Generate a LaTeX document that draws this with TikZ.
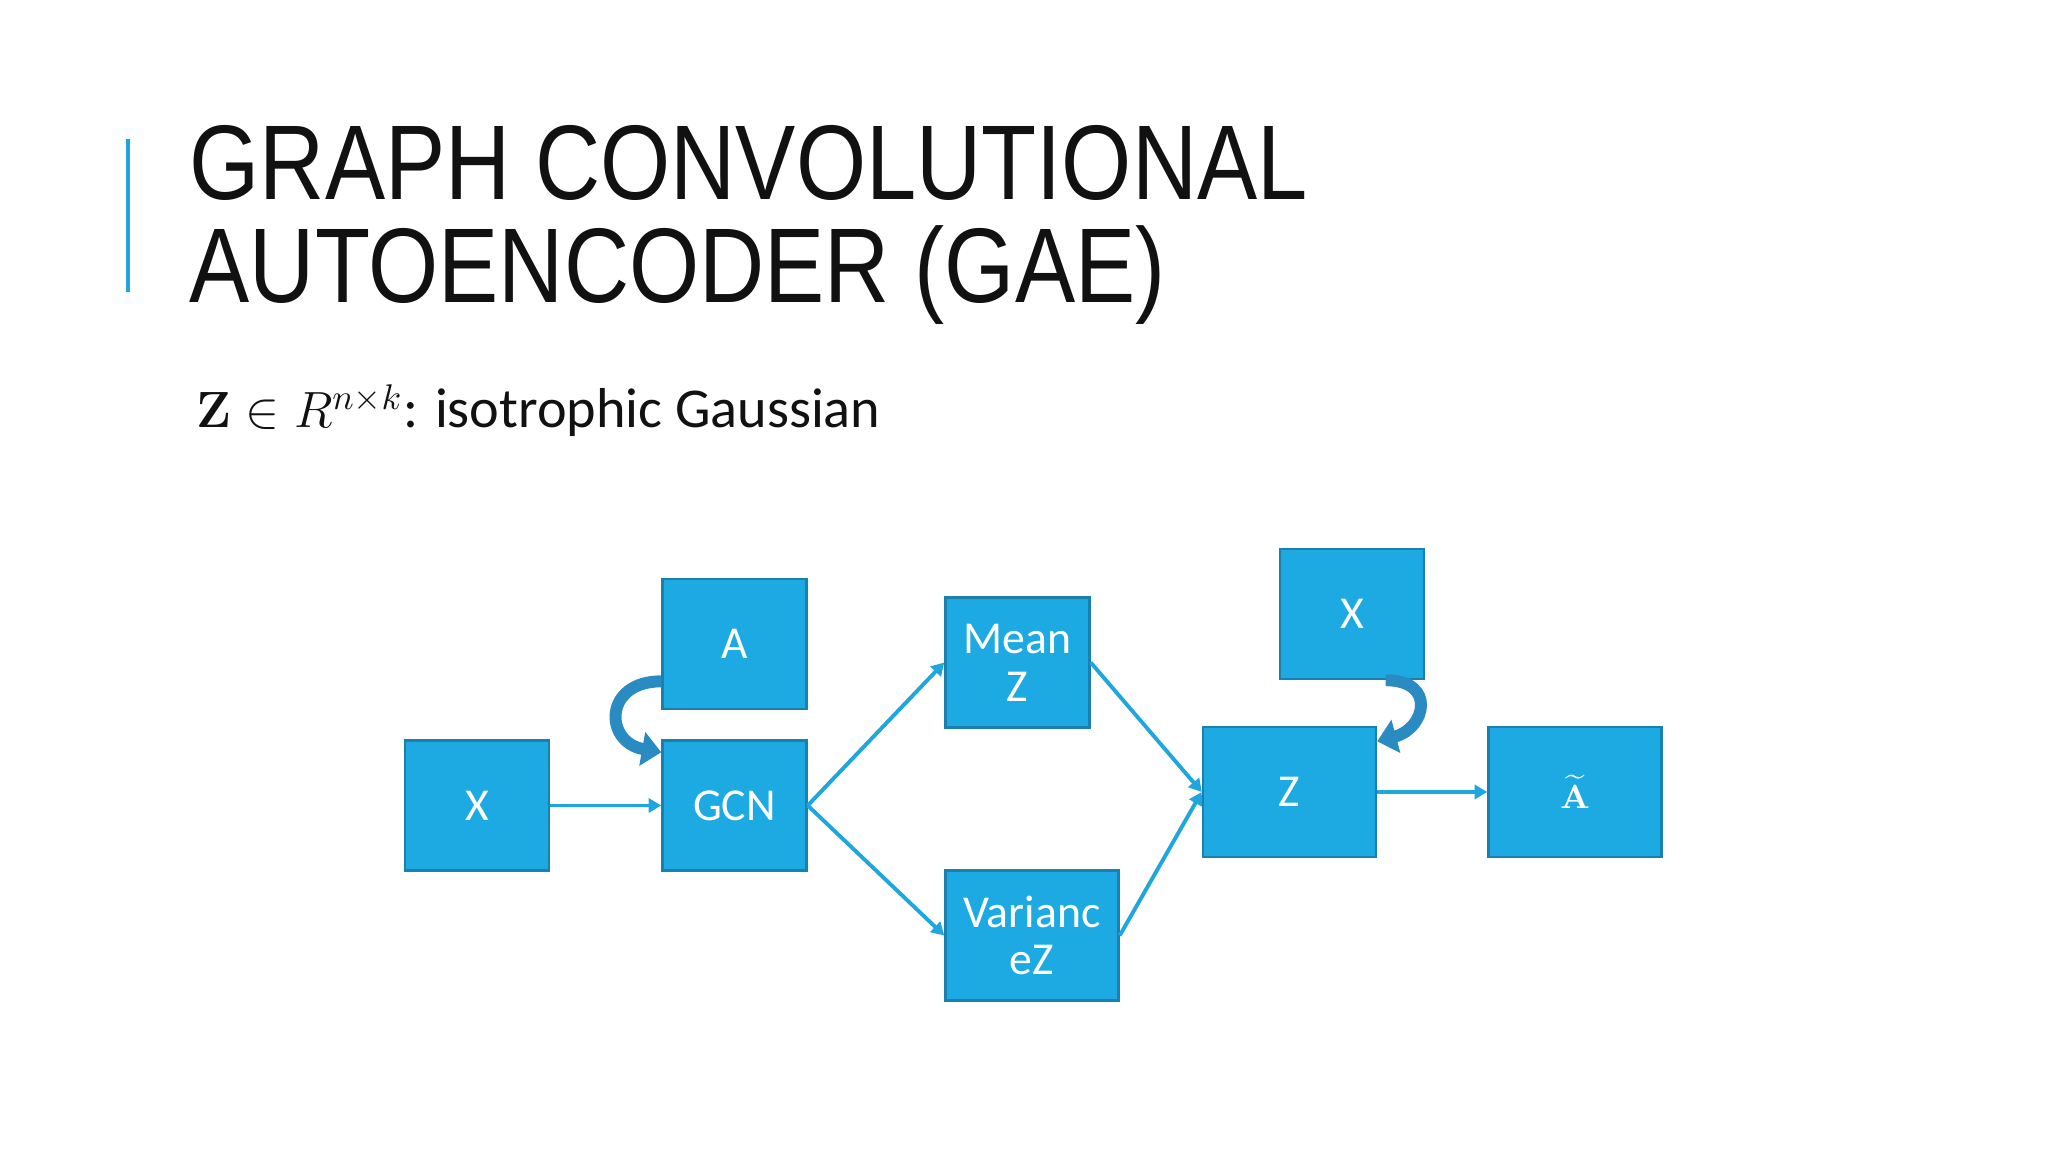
\RequirePackage{fix-cm}
\documentclass[tikz,border=0pt]{standalone}
\usepackage[no-math]{fontspec}
\setmainfont{Carlito}
\newfontfamily\titlefont[FakeStretch=0.85]{Liberation Sans}
\usetikzlibrary{arrows.meta,positioning}
\definecolor{gaeBlue}{HTML}{1DAAE2}
\definecolor{gaeEdge}{HTML}{1B80AE}
\definecolor{gaeLine}{HTML}{20A6DE}
\definecolor{gaeLoop}{HTML}{2A8BC3}
\definecolor{gaeInk}{HTML}{111111}
\tikzset{
  >={Triangle[length=3.6pt,width=4pt]},
  blk/.style={draw=gaeEdge, line width=0.7pt, fill=gaeBlue, text=white,
              minimum width=1.44cm, minimum height=1.30cm, align=center,
              inner sep=1pt, font=\fontsize{13}{13.6}\selectfont},
  wideblk/.style={blk, minimum width=1.73cm},
  ttl/.style={anchor=base west, inner sep=0pt, text=gaeInk,
              font=\titlefont\fontsize{30.2}{30}\selectfont},
  sub/.style={anchor=base west, inner sep=0pt, text=gaeInk,
              font=\fontsize{16}{19}\selectfont},
  flow/.style={->, draw=gaeLine, line width=1.1pt},
  loopflow/.style={-{Triangle[length=5.5pt,width=9.5pt]}, draw=gaeLoop,
              line width=3.4pt, looseness=2.1},
}

\begin{document}
\begin{tikzpicture}
  \fill[white] (0,0) rectangle (20.48,11.52);
  \useasboundingbox (0,0) rectangle (20.48,11.52);
  % heading
  \draw[gaeLine, line width=0.9pt] (1.28,10.13) -- (1.28,8.60);
  \node[ttl] (t1) at (1.89,9.52) {GRAPH CONVOLUTIONAL};
  \node[ttl] (t2) at (1.89,8.49) {AUTOENCODER (GAE)};
  \node[sub] (iso) at (1.96,7.24)
    {{\fontsize{14.5}{18}\selectfont$\mathbf{Z}\in R^{n\times k}$}: isotrophic Gaussian};
  % encoder
  \node[blk] (x) at (4.77,3.465) {X};
  \node[blk] (gcn) at (7.345,3.465) {GCN};
  \node[blk, above=0.29cm of gcn] (a) {A};
  \node[blk] (mean) at (10.175,4.895) {Mean\\Z};
  \node[wideblk] (var) at (10.32,2.165) {Varianc\\eZ};
  % decoder
  \node[wideblk] (z) at (12.895,3.60) {Z};
  \node[blk] (xt) at (13.52,5.38) {X};
  \node[wideblk] (atil) at (15.75,3.60) {\fontsize{9.5}{11}\selectfont$\widetilde{\mathbf{A}}$};
  \draw[flow] (x) -- (gcn);
  \draw[flow] (gcn.east) -- (mean.west);
  \draw[flow] (gcn.east) -- (var.west);
  \draw[flow] (mean.east) -- (z.west);
  \draw[flow] (var.east) -- (z.west);
  \draw[flow] (z) -- (atil);
  \draw[loopflow] (a.207) to[out=180,in=170] (gcn.144);
  \draw[loopflow] (xt.297) to[out=0,in=15] (z.30);
\end{tikzpicture}
\end{document}
